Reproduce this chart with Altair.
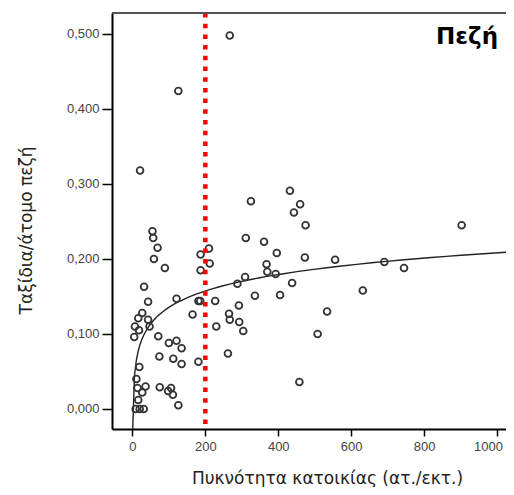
import altair as alt
import pandas as pd

# Population density (inh./ha) and walking trips per person
density = [9, 20, 31, 126, 16, 111, 27, 98, 106, 75, 14, 36, 11, 19, 181, 135, 112, 74,
           262, 135, 100, 121, 71, 5, 18, 7, 47, 16, 43, 27, 43, 32, 121, 181, 186, 227,
           165, 230, 89, 59, 69, 55, 57, 210, 187, 212, 187, 21, 126, 267, 325, 311,
           432, 460, 443, 475, 361, 396, 473, 556, 368, 370, 393, 309, 288, 438, 336,
           405, 292, 265, 267, 293, 304, 534, 508, 458, 903, 691, 745, 632]
trips = [0.000, 0.000, 0.000, 0.005, 0.012, 0.019, 0.022, 0.024, 0.028, 0.029, 0.028,
         0.030, 0.040, 0.056, 0.063, 0.060, 0.067, 0.070, 0.074, 0.081, 0.088, 0.091,
         0.097, 0.096, 0.105, 0.110, 0.110, 0.121, 0.119, 0.128, 0.143, 0.163, 0.147,
         0.144, 0.144, 0.144, 0.126, 0.110, 0.188, 0.200, 0.215, 0.237, 0.228, 0.214,
         0.206, 0.194, 0.185, 0.318, 0.424, 0.498, 0.277, 0.228, 0.291, 0.273, 0.262,
         0.245, 0.223, 0.208, 0.202, 0.199, 0.193, 0.183, 0.180, 0.176, 0.167, 0.168,
         0.151, 0.152, 0.138, 0.127, 0.119, 0.116, 0.104, 0.130, 0.100, 0.036, 0.245,
         0.196, 0.188, 0.158]

threshold = [200]
panel_title = ["Πεζή"]
x_ticks = [0, 200, 400, 600, 800, 1000]
y_ticks = [0.0, 0.1, 0.2, 0.3, 0.4, 0.5]

df = pd.DataFrame({"density": density, "trips": trips})
df_thr = pd.DataFrame({"density": threshold})
df_title = pd.DataFrame({"label": panel_title})

W, H = 394, 416
x_scale = alt.Scale(domain=[-56, 1024.7], nice=False, zero=False)
y_scale = alt.Scale(domain=[-0.0267, 0.528], nice=False, zero=False)

x_enc = alt.X("density:Q", scale=x_scale,
              axis=alt.Axis(values=x_ticks, format="d", grid=False, tickSize=7,
                            labelPadding=4, labelFontSize=13, labelFont="Liberation Sans",
                            labelColor="#444", domainColor="#000", domainWidth=2,
                            tickColor="#000", tickWidth=1.5,
                            labelOffset={"condition": {"test": "datum.value == 1000", "value": -9},
                                         "value": 0},
                            title="Πυκνότητα κατοικίας (ατ./εκτ.)", titleFont="DejaVu Sans",
                            titleFontSize=17, titleFontWeight="normal", titleColor="#222",
                            titleX=215, titleY=54, titleBaseline="alphabetic",
                            titleAnchor="start", titleAlign="center"))
y_enc = alt.Y("trips:Q", scale=y_scale,
              axis=alt.Axis(values=y_ticks, grid=False, tickSize=10, labelPadding=3,
                            labelExpr="replace(format(datum.value, '.3f'), '.', ',')",
                            labelFontSize=13, labelFont="Liberation Sans", labelColor="#444",
                            domainColor="#000", domainWidth=2, tickColor="#000", tickWidth=1.5,
                            title="Ταξίδια/άτομο πεζή", titleFont="DejaVu Sans",
                            titleFontSize=17, titleFontWeight="normal", titleColor="#222",
                            titleAngle=270, titleX=-81, titleY=217, titleAlign="center",
                            titleBaseline="alphabetic"))

points = alt.Chart(df).mark_point(shape="circle", filled=False, size=46,
                                  strokeWidth=1.8, color="#333", opacity=1).encode(
    x=x_enc, y=y_enc)

fit = alt.Chart(df).transform_regression(
    "density", "trips", method="log", extent=[0.5, 1024.7]
).mark_line(color="#222", strokeWidth=1.4, clip=True).encode(
    x=alt.X("density:Q", scale=x_scale), y=alt.Y("trips:Q", scale=y_scale))

rule = alt.Chart(df_thr).mark_rule(color="#ff0000", strokeWidth=4.5,
                                   strokeDash=[4.5, 6.2]).encode(
    x=alt.X("density:Q", scale=x_scale))

top_line = alt.Chart(df_title).mark_rule(color="#555", strokeWidth=2).encode(
    x=alt.value(0), x2=alt.value(W), y=alt.value(0))

label = alt.Chart(df_title).mark_text(align="right", baseline="alphabetic",
                                      font="DejaVu Sans", fontSize=23, fontWeight="bold",
                                      color="#000").encode(
    text="label:N", x=alt.value(386), y=alt.value(31))

chart = alt.layer(fit, points, rule, top_line, label).properties(
    width=W, height=H,
    autosize=alt.AutoSizeParams(type="none"),
    padding={"left": 104, "top": 5, "right": 0, "bottom": 58},
).configure_view(stroke=None).configure(background="white")

chart.save("out.html", embed_options={"renderer": "svg", "actions": False})
